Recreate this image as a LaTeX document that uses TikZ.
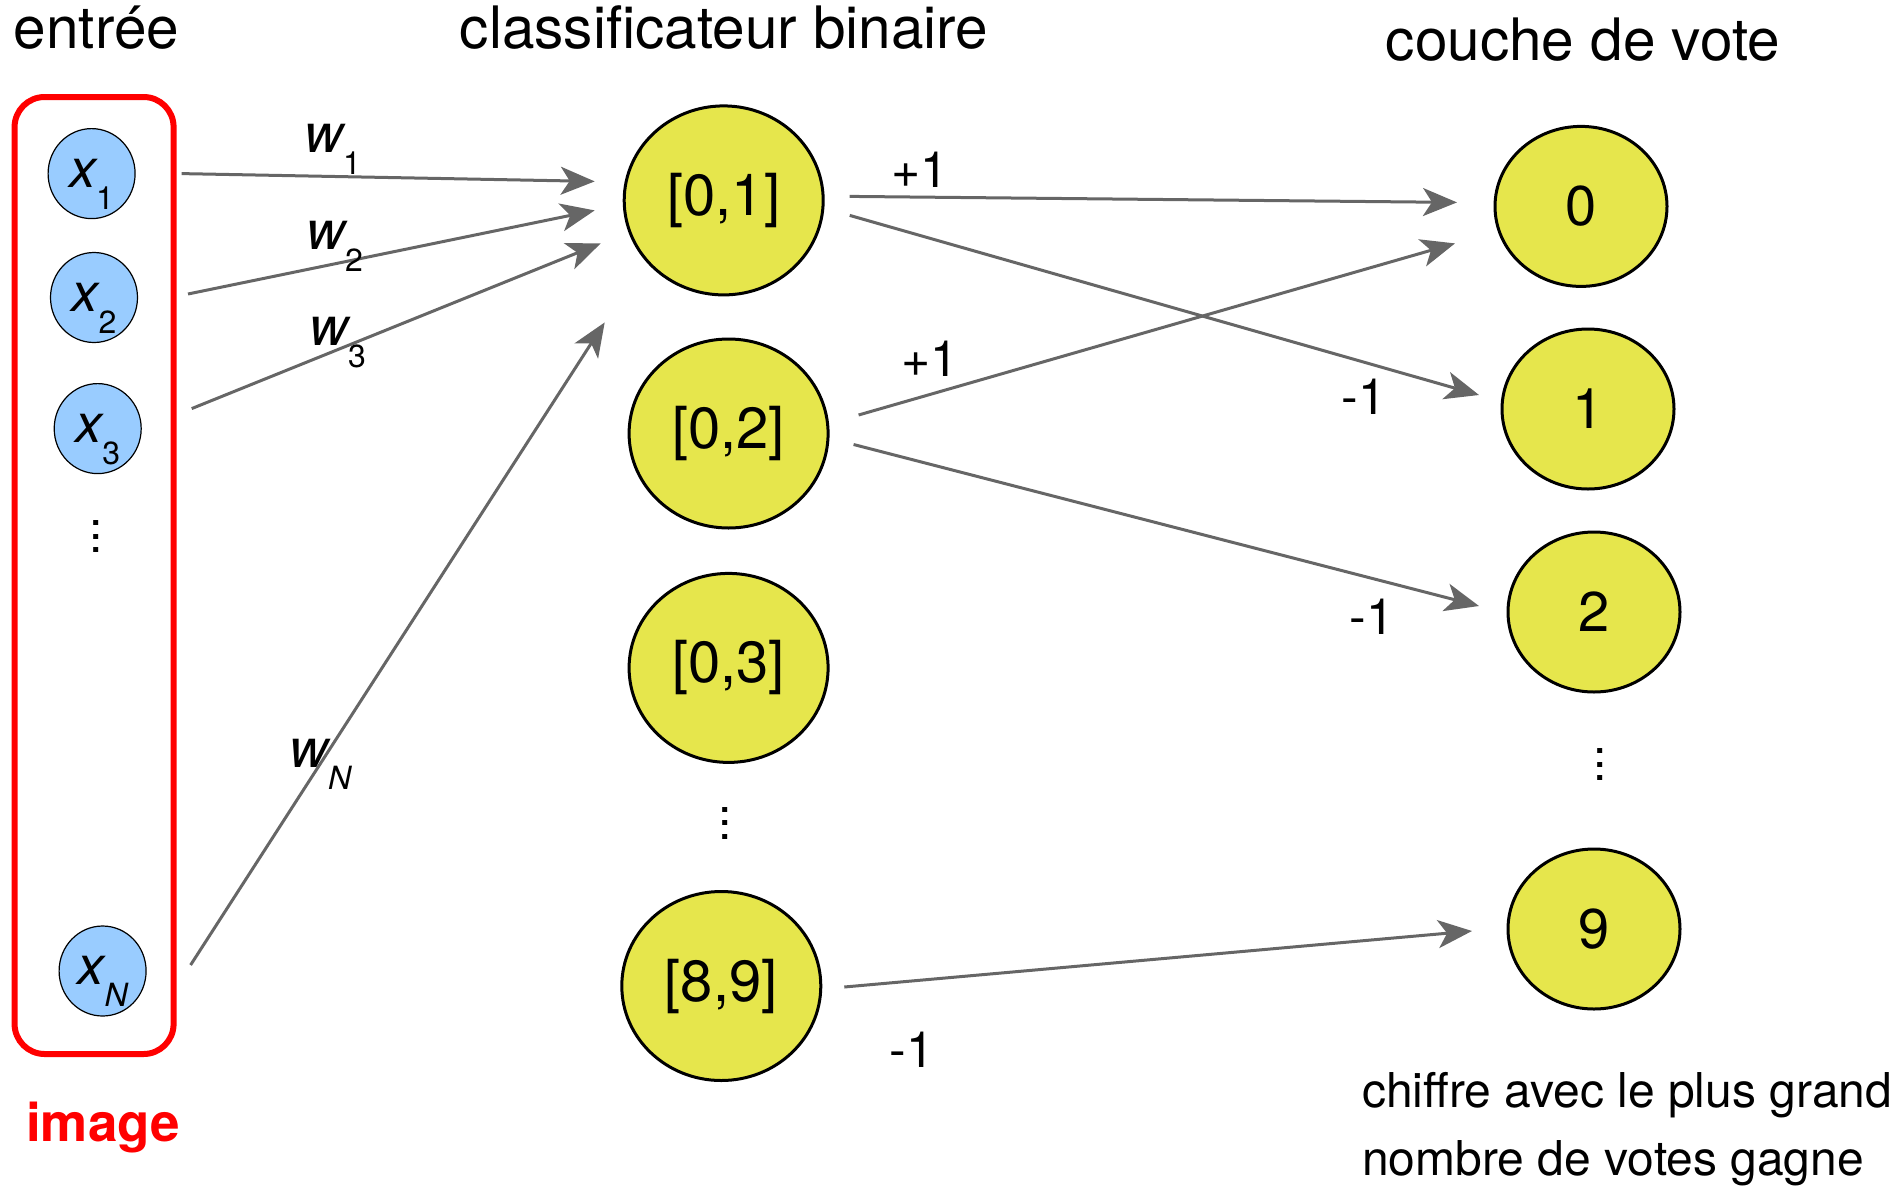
\documentclass[tikz,border=0pt]{standalone}
\usepackage{fontspec}
\setmainfont{TeX Gyre Heros}
\usetikzlibrary{arrows.meta,calc,shapes.geometric}
\definecolor{inblue}{HTML}{99CCFF}
\definecolor{clyellow}{HTML}{E6E64C}
\definecolor{arrgray}{HTML}{666666}
\definecolor{imgred}{HTML}{FF0000}
\newcommand\varsub[2]{{\itshape #1}\raisebox{-22pt}{\fontsize{32}{32}\selectfont #2}}
\newcommand\mydots{\vbox{\baselineskip=13.5pt\lineskiplimit=-100pt\lineskip=0pt\hbox{.}\hbox{.}\hbox{.}}}
\begin{document}
\begin{tikzpicture}[x=1pt,y=-1pt,
  inp/.style={ellipse, fill=inblue, draw=black, line width=1.2pt, minimum width=87pt, minimum height=90pt, inner sep=0pt,
     font=\fontsize{54}{54}\selectfont, text height=27pt, text depth=0pt},
  cls/.style={ellipse, fill=clyellow, draw=black, line width=3pt, minimum width=199pt, minimum height=189pt, inner sep=0pt,
     font=\fontsize{58}{58}\selectfont},
  vote/.style={ellipse, fill=clyellow, draw=black, line width=3pt, minimum width=172pt, minimum height=160pt, inner sep=0pt,
     font=\fontsize{56}{56}\selectfont},
  arr/.style={draw=arrgray, line width=3pt, -{Stealth[length=34pt,width=28pt,inset=9pt]}},
  title/.style={anchor=base, font=\fontsize{58.5}{58.5}\selectfont, inner sep=0pt},
  wlab/.style={anchor=base west, font=\fontsize{54}{54}\selectfont, inner sep=0pt},
  vlab/.style={font=\fontsize{50}{50}\selectfont, inner sep=0pt},
  dots/.style={font=\fontsize{48}{48}\selectfont, inner sep=0pt}
]
\useasboundingbox (0,0) rectangle (1904,1192);

% titles
\node[title] (tin) at (96.5,48.6) {entrée};
\node[title] (tcl) at (724,48.6) {classificateur binaire};
\node[title] (tvo) at (1583,60.7) {couche de vote};

% image box
\node[draw=imgred, line width=6pt, rounded corners=30pt, minimum width=159pt, minimum height=957pt, inner sep=0pt] (box) at (94.1,575.5) {};
\node[anchor=base, text=imgred, font=\fontsize{53}{53}\selectfont\bfseries, inner sep=0pt] (img) at (103,1141) {image};

% inputs
\node[inp, xshift=3pt] (x1) at (88.6,173.6) {\varsub{x}{1}};
\node[inp, xshift=3pt] (x2) at (91,297.5) {\varsub{x}{2}};
\node[inp, xshift=3pt] (x3) at (94.7,428.6) {\varsub{x}{3}};
\node[dots] (xd) at (95.7,536.5) {\mydots};
\node[inp, xshift=3pt] (xN) at (99.6,971) {\varsub{x}{\itshape N}};

% classifiers
\node[cls] (c01) at (723.7,200.4) {[0,1]};
\node[cls] (c02) at (728.6,433.5) {[0,2]};
\node[cls] (c03) at (728.6,667.9) {[0,3]};
\node[dots] (cd) at (725,823) {\mydots};
\node[cls] (c89) at (721.3,986) {[8,9]};

% votes
\node[vote] (v0) at (1581,206.4) {0};
\node[vote] (v1) at (1588,409) {1};
\node[vote] (v2) at (1594,612) {2};
\node[dots] (vd) at (1600,764.5) {\mydots};
\node[vote] (v9) at (1594,929) {9};

% input arrows
\coordinate (s1) at ($(x1)+(90,0)$);
\coordinate (s2) at ($(x2)+(94,-3.5)$);
\coordinate (s3) at ($(x3)+(94,-20)$);
\coordinate (sN) at ($(xN)+(88,-6)$);
\coordinate (t1) at ($(c01)+(-129,-19)$);
\coordinate (t2) at ($(c01)+(-129,10)$);
\coordinate (t3) at ($(c01)+(-123,43)$);
\coordinate (tN) at ($(c01)+(-119,122)$);
\draw[arr] (s1) -- (t1);
\draw[arr] (s2) -- (t2);
\draw[arr] (s3) -- (t3);
\draw[arr] (sN) -- (tN);

\node[wlab] (w1) at (304,152) {\varsub{w}{1}};
\node[wlab] (w2) at (306,249) {\varsub{w}{2}};
\node[wlab] (w3) at (309,345) {\varsub{w}{3}};
\node[wlab] (wN) at (289,767.5) {\varsub{w}{\itshape N}};

% vote arrows
\coordinate (a1s) at ($(c01)+(126,-4)$);
\coordinate (a1t) at ($(v0)+(-124,-4)$);
\coordinate (a2s) at ($(c01)+(126,15)$);
\coordinate (a2t) at ($(v1)+(-109,-14)$);
\coordinate (a3s) at ($(c02)+(130,-18.5)$);
\coordinate (a3t) at ($(v0)+(-126,37)$);
\coordinate (a4s) at ($(c02)+(125,11)$);
\coordinate (a4t) at ($(v2)+(-115,-6)$);
\coordinate (a5s) at ($(c89)+(123,1)$);
\coordinate (a5t) at ($(v9)+(-122,2)$);
\draw[arr] (a1s) -- (a1t);
\draw[arr] (a2s) -- (a2t);
\draw[arr] (a3s) -- (a3t);
\draw[arr] (a4s) -- (a4t);
\draw[arr] (a5s) -- (a5t);

\node[vlab] (l1) at (920,170) {+1};
\node[vlab] (l2) at (1364,397) {-1};
\node[vlab] (l3) at (930,359) {+1};
\node[vlab] (l4) at (1372,617) {-1};
\node[vlab] (l5) at (912,1050) {-1};

% note
\node[anchor=base west, align=left, font=\fontsize{48}{68}\selectfont, inner sep=0pt] (note) at (1362,1175) {chiffre avec le plus grand\\nombre de votes gagne};
\end{tikzpicture}
\end{document}
